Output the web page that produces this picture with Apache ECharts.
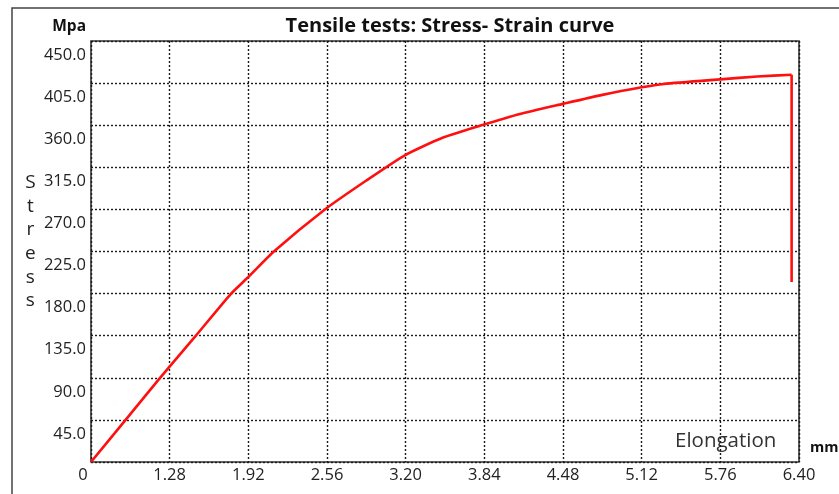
<!DOCTYPE html>
<html>
<head>
<meta charset="utf-8">
<script src="https://cdn.jsdelivr.net/npm/echarts@6/dist/echarts.min.js"></script>
<style>
html,body{margin:0;padding:0;background:#fff;}
#chart{width:839px;height:494px;}
</style>
</head>
<body>
<div id="chart"></div>
<script>
// Elongation (mm) and stress (MPa)
const elongation = [0.64, 0.92, 1.20, 1.49, 1.78, 1.92, 2.13, 2.54, 2.88, 3.19, 3.50, 3.81, 4.13, 4.48, 4.80, 5.12, 5.30, 5.76, 6.06, 6.34];
const stress     = [0,    44.8, 89.6, 134.5,180,  197.7,225.2,269.7,300.9,327.6,346.5,359.6,372,  382.8,392.4,400.5,404.1,409,  412,  414];
// final fracture drop
const dropElongation = [6.34, 6.34];
const dropStress     = [414, 192.4];
// x tick labels as printed on the axis
const xTickLabels = ['0', '1.28', '1.92', '2.56', '3.20', '3.84', '4.48', '5.12', '5.76', '6.40'];
const xMin = 0.64, xMax = 6.40, xStep = 0.64;
const yMin = 0, yMax = 450, yStep = 45;

const chart = echarts.init(document.getElementById('chart'), null, {renderer: 'canvas'});
const FONT = 'Open Sans';
const gridLine = {show: true, lineStyle: {color: '#1a1a1a', type: [2, 2], width: 1.4}};

chart.setOption({
  animation: false,
  backgroundColor: '#fff',
  grid: {left: 91, top: 41, right: 40, bottom: 32, show: true, borderColor: '#333', borderWidth: 1.6, backgroundColor: 'transparent'},
  title: {
    text: 'Tensile tests: Stress- Strain curve',
    left: 445, top: 11, textAlign: 'center',
    textStyle: {fontFamily: FONT, fontWeight: 'bold', fontSize: 20, color: '#111'}
  },
  xAxis: {
    type: 'value', min: xMin, max: xMax, interval: xStep,
    axisLine: {show: false}, axisTick: {show: false},
    splitLine: gridLine,
    axisLabel: {
      margin: 5, fontFamily: FONT, fontSize: 16.5, color: '#222', lineHeight: 16,
      showMinLabel: true, showMaxLabel: true,
      formatter: function (v) {
        const i = Math.round((v - xMin) / xStep);
        return i === 0 ? '{z|' + xTickLabels[0] + '}' : xTickLabels[i];
      },
      rich: {z: {fontFamily: FONT, fontSize: 16.5, color: '#222', padding: [0, 16, 0, 0]}}
    }
  },
  yAxis: {
    type: 'value', min: yMin, max: yMax, interval: yStep,
    axisLine: {show: false}, axisTick: {show: false},
    splitLine: gridLine,
    axisLabel: {
      margin: 5, fontFamily: FONT, fontSize: 16.5, color: '#222', lineHeight: 16,
      verticalAlign: 'top', padding: [6, 0, 0, 0],
      formatter: function (v) { return v === 0 ? '' : v.toFixed(1); }
    }
  },
  graphic: [
    {type: 'rect', shape: {x: 12, y: 8, width: 900, height: 600}, style: {fill: 'none', stroke: '#444', lineWidth: 1.5}, z: -10},
    {type: 'text', right: 839 - 86, top: 19, style: {text: 'Mpa', fontFamily: FONT, fontWeight: 'bold', fontSize: 15.5, fill: '#111'}},
    {type: 'text', left: 25, top: 171, style: {text: 'S\nt\nr\ne\ns\ns', textAlign: 'center', fontFamily: FONT, fontSize: 19, lineHeight: 23.6, fill: '#222'}},
    {type: 'text', left: 675, top: 431, style: {text: 'Elongation', fontFamily: FONT, fontSize: 20.5, fill: '#333'}},
    {type: 'text', left: 810, top: 440, style: {text: 'mm', fontFamily: FONT, fontWeight: 'bold', fontSize: 14.5, fill: '#111'}}
  ],
  series: [
    {
      type: 'line', data: elongation.map((x, i) => [x, stress[i]]),
      smooth: 0.2, showSymbol: false, lineStyle: {color: '#ff1010', width: 2.6}, z: 5
    },
    {
      type: 'line', data: dropElongation.map((x, i) => [x, dropStress[i]]),
      showSymbol: false, lineStyle: {color: '#ff1010', width: 2.6}, z: 5
    }
  ]
});
</script>
</body>
</html>
